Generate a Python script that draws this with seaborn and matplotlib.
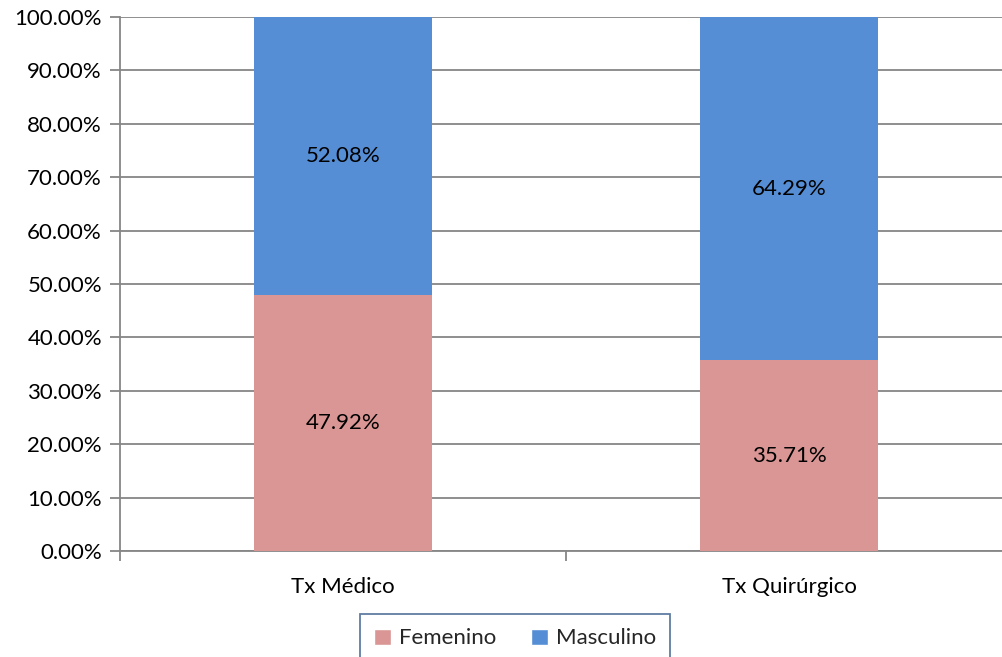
import numpy as np
import pandas as pd
import seaborn as sns
import matplotlib.pyplot as plt
from matplotlib.patches import Patch
from matplotlib.ticker import PercentFormatter, FixedLocator

# Data
categories = ['Tx Médico', 'Tx Quirúrgico']
femenino = [47.92, 35.71]
masculino = [52.08, 64.29]

pink = '#D99694'
blue = '#558ED5'
grid_gray = '#868686'

sns.set_theme(style='white')
plt.rcParams['font.family'] = ['Lato', 'DejaVu Sans']

df = pd.DataFrame({'Tratamiento': categories,
                   'Femenino': femenino,
                   'Masculino': masculino})
df['Total'] = df['Femenino'] + df['Masculino']

fig = plt.figure(figsize=(10.03, 6.57), dpi=100)
ax = fig.add_axes([120 / 1003, 106 / 657, 892 / 1003, 534 / 657])

# stacked bars: total in blue, femenino on top of it in pink
sns.barplot(data=df, x='Tratamiento', y='Total', color=blue, width=0.4,
            saturation=1, ax=ax, zorder=3)
sns.barplot(data=df, x='Tratamiento', y='Femenino', color=pink, width=0.4,
            saturation=1, ax=ax, zorder=3)
for p in ax.patches:
    p.set_edgecolor('none')

fs = 16
for i in range(len(categories)):
    ax.text(i, femenino[i] / 2, f'{femenino[i]:.2f}%', ha='center', va='center',
            fontsize=fs, color='black', zorder=4)
    ax.text(i, femenino[i] + masculino[i] / 2, f'{masculino[i]:.2f}%', ha='center',
            va='center', fontsize=fs, color='black', zorder=4)

ax.set_xlim(-0.5, 1.5)
ax.set_ylim(0, 100)
ax.yaxis.set_major_locator(FixedLocator(np.arange(0, 101, 10)))
ax.yaxis.set_major_formatter(PercentFormatter(decimals=2))
ax.grid(axis='y', color=grid_gray, linewidth=1.3, zorder=0)
ax.set_axisbelow(True)

ax.set_xlabel('')
ax.set_ylabel('')
ax.xaxis.set_minor_locator(FixedLocator([-0.5, 0.5, 1.5]))
ax.tick_params(axis='x', which='major', bottom=True, length=0, labelsize=fs, pad=19,
               labelcolor='black')
ax.tick_params(axis='x', which='minor', bottom=True, length=7, width=1.3,
               color=grid_gray, direction='out')
ax.tick_params(axis='y', left=True, length=7, width=1.3, color=grid_gray, direction='out',
               labelsize=fs, labelcolor='black', pad=6)

for side in ['top', 'right']:
    ax.spines[side].set_visible(False)
for side in ['left', 'bottom']:
    ax.spines[side].set_color(grid_gray)
    ax.spines[side].set_linewidth(1.3)

handles = [Patch(facecolor=pink, label='Femenino'),
           Patch(facecolor=blue, label='Masculino')]
leg = fig.legend(handles=handles, loc='upper center', bbox_to_anchor=(515 / 1003, 1 - 614 / 657),
                 ncol=2, frameon=True, fontsize=fs, handlelength=0.75, handleheight=0.75,
                 handletextpad=0.35, columnspacing=1.6, borderpad=0.65, borderaxespad=0,
                 fancybox=False)
leg.get_frame().set_edgecolor('#385D8A')
leg.get_frame().set_linewidth(1.3)

fig.savefig('out.png', dpi=100)
